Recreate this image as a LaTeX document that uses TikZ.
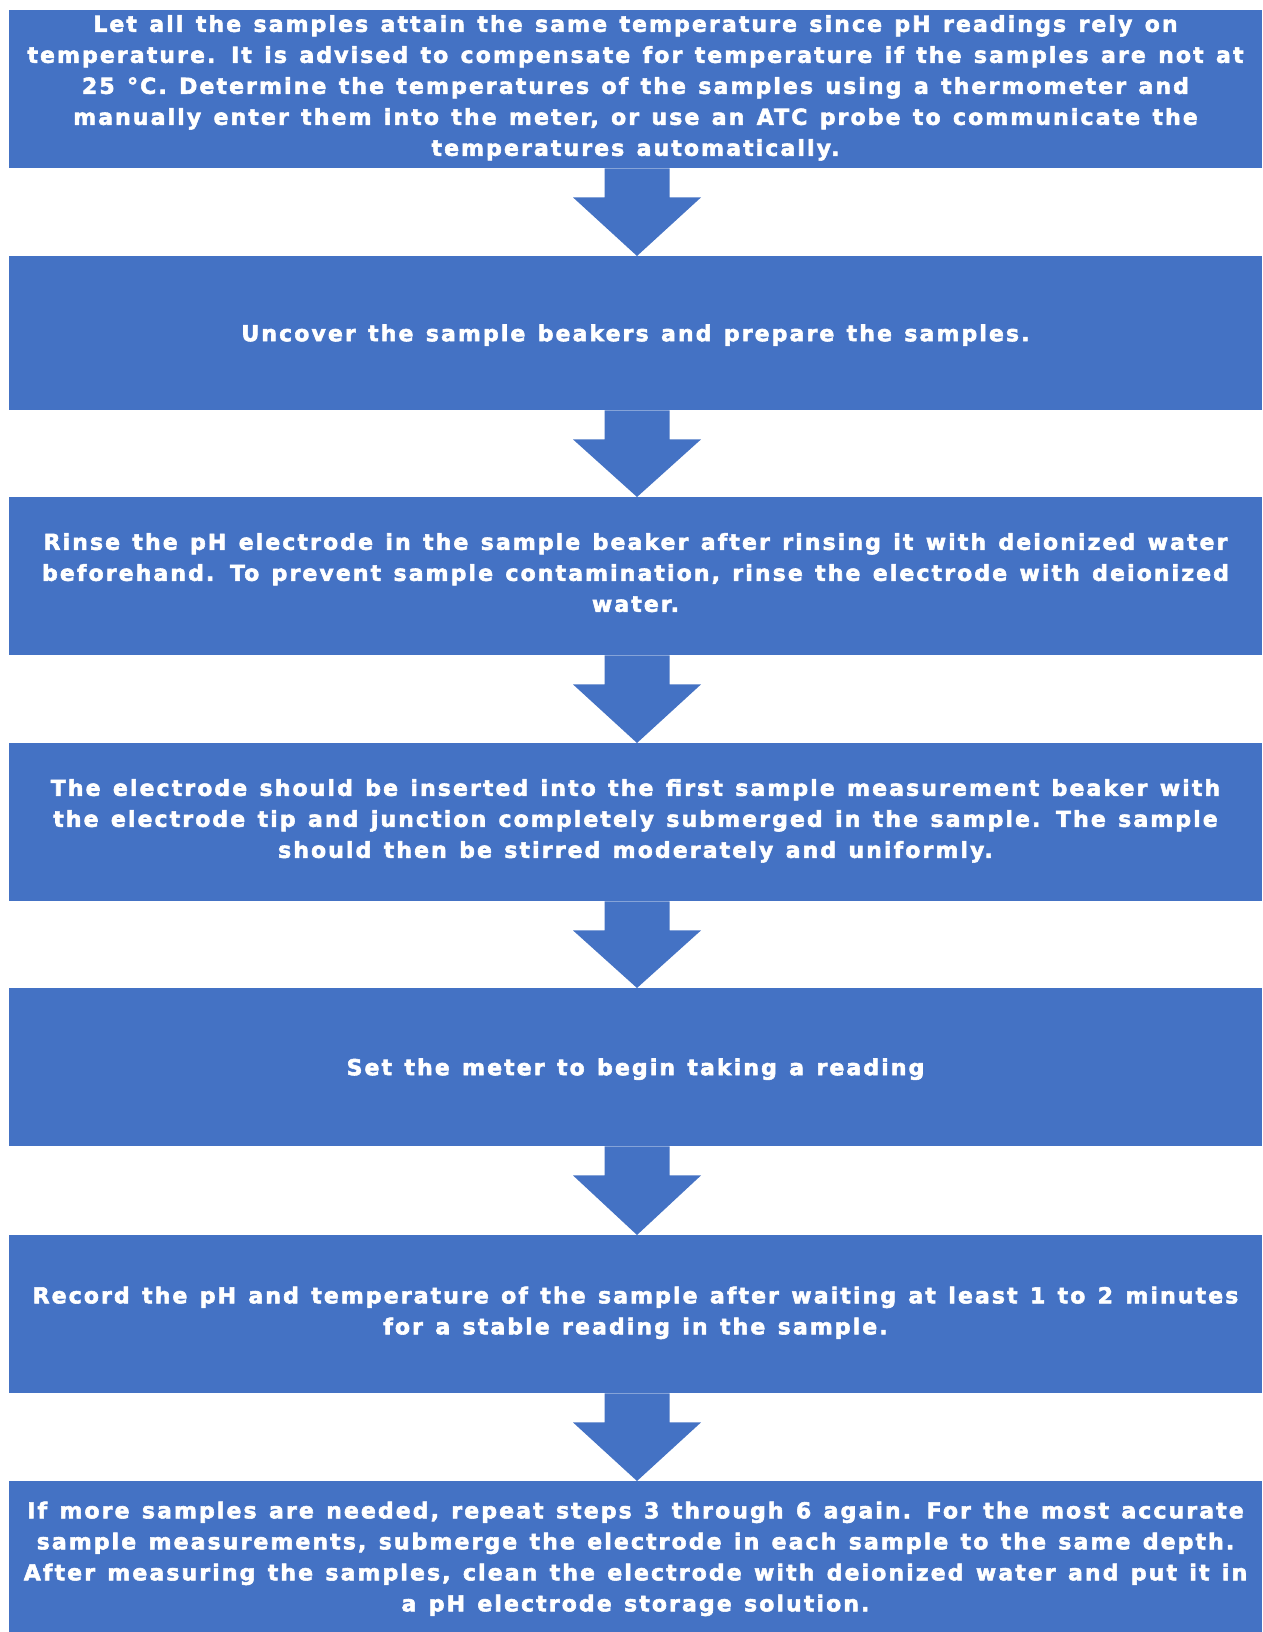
\documentclass[tikz,border=0pt]{standalone}
\usepackage{fontspec}
\setmainfont{Liberation Sans}
\newfontfamily\boxfont{DejaVu Sans}[UprightFont={* Bold}, FakeBold=2.5, LetterSpace=9.5, WordSpace=1.27]
\usetikzlibrary{calc}
\definecolor{boxblue}{HTML}{4472C4}
\newcommand\flowarrow[2]{%
  \fill[arrowfill] ($(#1.south)+(-31,0)$) -- ($(#1.south)+(-31,-29)$) -- ($(#1.south)+(-62.5,-29)$)
    -- ($(#2.north)+(1.5,0)$) -- ($(#1.south)+(65.5,-29)$) -- ($(#1.south)+(34,-29)$)
    -- ($(#1.south)+(34,0)$) -- cycle;}
\newcommand\linestrut{\rule[-7.5pt]{0pt}{31pt}}
\begin{document}
\begin{tikzpicture}[x=1pt,y=1pt,
  stepbox/.style={fill=boxblue, draw=none, minimum width=1253pt, minimum height=158pt,
    inner sep=0pt, text=white, font=\boxfont\fontsize{22}{31}\selectfont,
    align=center, anchor=north,
    execute at begin node=\linestrut, execute at end node=\linestrut},
  arrowfill/.style={fill=boxblue}]
\useasboundingbox (0,0) rectangle (1262,-1632);
\fill[white] (0,0) rectangle (1262,-1632);
\node[stepbox] (b1) at (635.5,-10) {Let all the samples attain the same temperature since pH readings rely on\\
temperature. It is advised to compensate for temperature if the samples are not at\\
25 °C. Determine the temperatures of the samples using a thermometer and\\
manually enter them into the meter, or use an ATC probe to communicate the\\
temperatures automatically.};
\node[stepbox, minimum height=154pt] (b2) at (635.5,-256) {Uncover the sample beakers and prepare the samples.};
\node[stepbox] (b3) at (635.5,-497) {Rinse the pH electrode in the sample beaker after rinsing it with deionized water\\
beforehand. To prevent sample contamination, rinse the electrode with deionized\\
water.};
\node[stepbox] (b4) at (635.5,-743) {The electrode should be inserted into the first sample measurement beaker with\\
the electrode tip and junction completely submerged in the sample. The sample\\
should then be stirred moderately and uniformly.};
\node[stepbox] (b5) at (635.5,-988) {Set the meter to begin taking a reading};
\node[stepbox] (b6) at (635.5,-1235) {Record the pH and temperature of the sample after waiting at least 1 to 2 minutes\\
for a stable reading in the sample.};
\node[stepbox] (b7) at (635.5,-1481) {If more samples are needed, repeat steps 3 through 6 again. For the most accurate\\
sample measurements, submerge the electrode in each sample to the same depth.\\
After measuring the samples, clean the electrode with deionized water and put it in\\
a pH electrode storage solution.};
\flowarrow{b1}{b2}
\flowarrow{b2}{b3}
\flowarrow{b3}{b4}
\flowarrow{b4}{b5}
\flowarrow{b5}{b6}
\flowarrow{b6}{b7}
\end{tikzpicture}
\end{document}
